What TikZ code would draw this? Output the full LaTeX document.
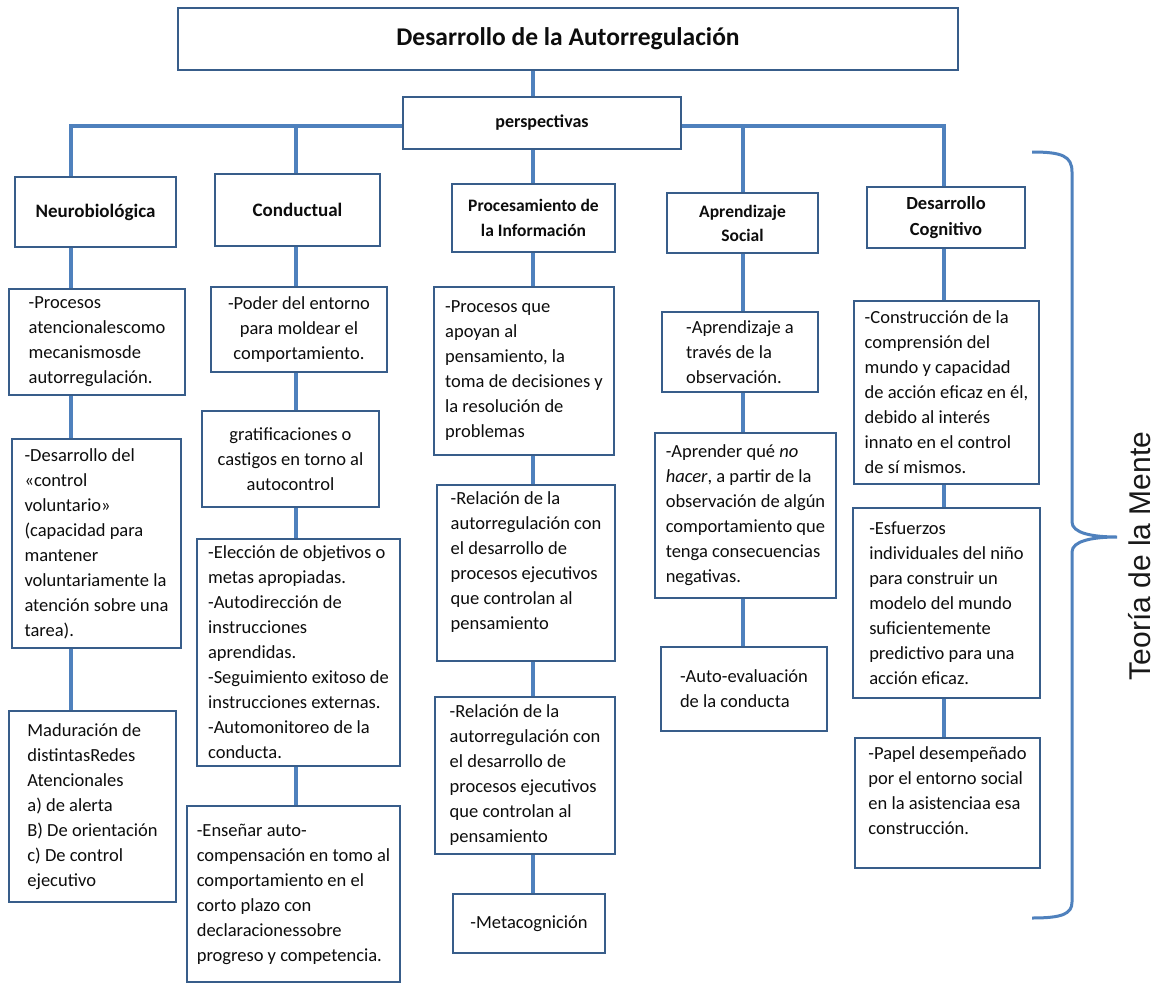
\documentclass[tikz,border=0pt]{standalone}
\usepackage{fontspec}
\setmainfont{Carlito}
\newfontfamily\arialfont{Liberation Sans}
\definecolor{lineablue}{RGB}{79,129,189}
\definecolor{bordeblue}{RGB}{56,93,138}

\begin{document}
\begin{tikzpicture}[x=1pt, y=-1pt,
		caja/.style={draw=bordeblue, line width=2.5pt, fill=white, inner sep=2pt, align=left, text=black!95, font=\fontsize{18.5}{25}\selectfont},
		cajac/.style={caja, align=center},
		cabeza/.style={caja, align=center, font=\fontsize{19}{25}\selectfont\bfseries},
		conector/.style={draw=lineablue, line width=4pt},
		llave/.style={draw=lineablue, line width=3pt}]
		%%%%% START %%%%%
		
		\fill[white] (0, 0) rectangle (1158, 985);
		\useasboundingbox (0, 0) rectangle (1158, 985);
		
		\node[cabeza, font=\fontsize{25.5}{30}\selectfont\bfseries, minimum width=780, minimum height=62] (titulo) at (568, 39) {Desarrollo de la Autorregulación};
		\node[cabeza, font=\fontsize{18}{22}\selectfont\bfseries, minimum width=278, minimum height=52] (persp) at (542, 123) {perspectivas};
		
		\coordinate (xN) at (71, 126);
		\coordinate (xC) at (296, 126);
		\coordinate (xP) at (533, 126);
		\coordinate (xA) at (743, 126);
		\coordinate (xD) at (944, 126);
		
		% cabezas
		\node[cabeza, minimum width=161, minimum height=70] (neuro) at (95.5, 212) {Neurobiológica};
		\node[cabeza, minimum width=165, minimum height=72] (conduct) at (297.5, 210) {Conductual};
		\node[cabeza, font=\fontsize{17.5}{25}\selectfont\bfseries, minimum width=163, minimum height=68] (proc) at (533.5, 218) {Procesamiento de\\la Información};
		\node[cabeza, font=\fontsize{17.5}{24}\selectfont\bfseries, minimum width=151, minimum height=60] (aprsoc) at (742.5, 223) {Aprendizaje\\Social};
		\node[cabeza, font=\fontsize{18.5}{26}\selectfont\bfseries, minimum width=158, minimum height=61] (descog) at (946, 217.5) {Desarrollo\\Cognitivo};
		
		% Neurobiologica
		\node[caja, minimum width=176, minimum height=106] (n1) at (97, 342) {-Procesos\\atencionalescomo\\mecanismosde\\autorregulación.};
		\node[caja, minimum width=169, minimum height=209] (n2) at (96.5, 543.5) {-Desarrollo del\\«control\\voluntario»\\(capacidad para\\mantener\\voluntariamente la\\atención sobre una\\tarea).};
		\node[caja, minimum width=167, minimum height=191] (n3) at (92.5, 806.5) {Maduración de\\distintasRedes\\Atencionales\\a) de alerta\\B) De orientación\\c) De control\\ejecutivo};
		
		% Conductual
		\node[cajac, minimum width=176, minimum height=85] (c1) at (299, 329.5) {-Poder del entorno\\para moldear el\\comportamiento.};
		\node[cajac, minimum width=177, minimum height=96] (c2) at (290.5, 459) {gratificaciones o\\castigos en torno al\\autocontrol};
		\node[caja, minimum width=203, minimum height=227] (c3) at (298.5, 652.5) {-Elección de objetivos o\\metas apropiadas.\\-Autodirección de\\instrucciones\\aprendidas.\\-Seguimiento exitoso de\\instrucciones externas.\\-Automonitoreo de la\\conducta.};
		\node[caja, minimum width=213, minimum height=176] (c4) at (293.5, 894) {-Enseñar auto-\\compensación en tomo al\\comportamiento en el\\corto plazo con\\declaracionessobre\\progreso y competencia.};
		
		% Procesamiento
		\node[caja, minimum width=180, minimum height=168] (p1) at (524, 371) {-Procesos que\\apoyan al\\pensamiento, la\\toma de decisiones y\\la resolución de\\problemas};
		\node[caja, minimum width=178, minimum height=176] (p2) at (526, 573) {-Relación de la\\autorregulación con\\el desarrollo de\\procesos ejecutivos\\que controlan al\\pensamiento\\ \mbox{}};
		\node[caja, minimum width=180, minimum height=157] (p3) at (525, 775.5) {-Relación de la\\autorregulación con\\el desarrollo de\\procesos ejecutivos\\que controlan al\\pensamiento};
		\node[caja, minimum width=152, minimum height=59] (p4) at (529, 923.5) {-Metacognición};
		
		% Aprendizaje social
		\node[caja, minimum width=156, minimum height=80] (a1) at (740, 352) {-Aprendizaje a\\través de la\\observación.};
		\node[caja, minimum width=181, minimum height=165] (a2) at (745.5, 515.5) {-Aprender qué \textit{no}\\\textit{hacer}, a partir de la\\observación de algún\\comportamiento que\\tenga consecuencias\\negativas.};
		\node[caja, minimum width=166, minimum height=84] (a3) at (744, 689) {-Auto-evaluación\\de la conducta};
		
		% Desarrollo cognitivo
		\node[caja, minimum width=185, minimum height=183] (d1) at (946.5, 392.5) {-Construcción de la\\comprensión del\\mundo y capacidad\\de acción eficaz en él,\\debido al interés\\innato en el control\\de sí mismos.};
		\node[caja, minimum width=187, minimum height=190] (d2) at (946.5, 603) {-Esfuerzos\\individuales del niño\\para construir un\\modelo del mundo\\suficientemente\\predictivo para una\\acción eficaz.};
		\node[caja, minimum width=185, minimum height=130] (d3) at (947.5, 803) {-Papel desempeñado\\por el entorno social\\en la asistenciaa esa\\construcción.\\ \mbox{}};
		
		% lineas
		\draw[conector] (titulo.south -| xP) -- (persp.north -| xP);
		\draw[conector] (persp.south -| xP) -- (proc.north -| xP);
		\draw[conector] (neuro.north -| xN) -- (xN) -- (persp.west |- xN);
		\draw[conector] (persp.east |- xD) -- (xD) -- (descog.north -| xD);
		\draw[conector] (xC) -- (conduct.north -| xC);
		\draw[conector] (xA) -- (aprsoc.north -| xA);
		
		\draw[conector] (neuro.south -| xN) -- (n1.north -| xN);
		\draw[conector] (n1.south -| xN) -- (n2.north -| xN);
		\draw[conector] (n2.south -| xN) -- (n3.north -| xN);
		
		\draw[conector] (conduct.south -| xC) -- (c1.north -| xC);
		\draw[conector] (c1.south -| xC) -- (c2.north -| xC);
		\draw[conector] (c2.south -| xC) -- (c3.north -| xC);
		\draw[conector] (c3.south -| xC) -- (c4.north -| xC);
		
		\draw[conector] (proc.south -| xP) -- (p1.north -| xP);
		\draw[conector] (p1.south -| xP) -- (p2.north -| xP);
		\draw[conector] (p2.south -| xP) -- (p3.north -| xP);
		\draw[conector] (p3.south -| xP) -- (p4.north -| xP);
		
		\draw[conector] (aprsoc.south -| xA) -- (a1.north -| xA);
		\draw[conector] (a1.south -| xA) -- (a2.north -| xA);
		\draw[conector] (a2.south -| xA) -- (a3.north -| xA);
		
		\draw[conector] (descog.south -| xD) -- (d1.north -| xD);
		\draw[conector] (d1.south -| xD) -- (d2.north -| xD);
		\draw[conector] (d2.south -| xD) -- (d3.north -| xD);
		
		% llave
		\draw[llave] (1032, 152) .. controls (1062, 152) and (1072, 156) .. (1072, 172) -- (1072, 522) .. controls (1072, 533) and (1092, 537) .. (1117, 537) .. controls (1092, 537) and (1072, 541) .. (1072, 552) -- (1072, 902) .. controls (1072, 914) and (1062, 918) .. (1032, 918);
		\node[rotate=90, font=\arialfont\fontsize{30}{36}\selectfont, text=black!90] (teoria) at (1140, 556) {Teoría de la Mente};
		
		%%%%% END %%%%%
\end{tikzpicture}
\end{document}
